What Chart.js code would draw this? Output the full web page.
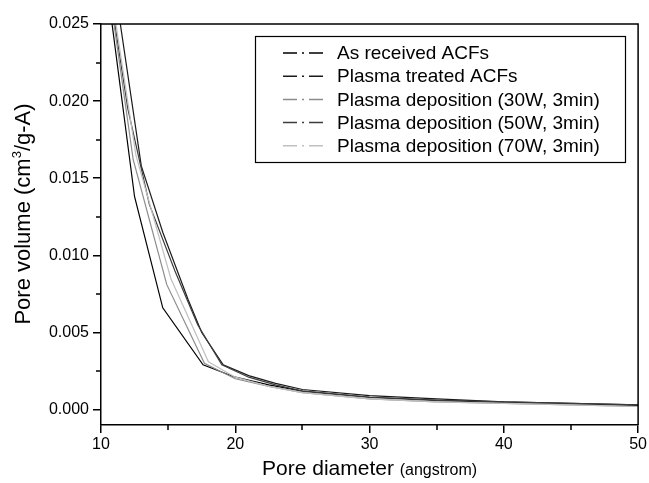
<!DOCTYPE html>
<html><head><meta charset="utf-8">
<script src="https://cdn.jsdelivr.net/npm/chart.js@4/dist/chart.umd.min.js"></script>
<style>html,body{margin:0;padding:0;background:#fff}#wrap{width:649px;height:483px}</style>
</head><body><div id="wrap"><canvas id="c" width="649" height="483"></canvas></div>
<script>
// ---- data ----
const seriesNames = ["As received ACFs","Plasma treated ACFs","Plasma deposition (30W, 3min)","Plasma deposition (50W, 3min)","Plasma deposition (70W, 3min)"];
const seriesColors = ["#000000","#1a1a1a","#8c8c8c","#3c3c3c","#c0c0c0"];

const asReceivedD = [10.3, 12.5, 14.6, 17.6, 20, 22.5, 25, 30, 35, 40, 45, 50];
const asReceivedV = [0.0285, 0.0138, 0.0066, 0.0029, 0.0021, 0.0016, 0.0012, 0.0008, 0.0006, 0.00045, 0.00035, 0.00025];

const plasmaTreatedD = [11.1, 13.0, 14.6, 16.5, 17.5, 19.1, 21, 23, 25, 30, 35, 40, 45, 50];
const plasmaTreatedV = [0.027, 0.0158, 0.0115, 0.0071, 0.0050, 0.0029, 0.0022, 0.0017, 0.0013, 0.0009, 0.0007, 0.0005, 0.0004, 0.0003];

const dep30D = [10.4, 12.4, 14.9, 17.7, 20, 22.5, 25, 30, 35, 40, 45, 50];
const dep30V = [0.0285, 0.0162, 0.0081, 0.0030, 0.0020, 0.0015, 0.0011, 0.0007, 0.0005, 0.0004, 0.0003, 0.0002];

const dep50D = [10.5, 12.0, 13.6, 15.5, 17.2, 19.0, 21, 23, 25, 30, 35, 40, 45, 50];
const dep50V = [0.028, 0.0195, 0.0133, 0.0090, 0.0055, 0.0029, 0.0021, 0.0016, 0.0012, 0.0008, 0.0006, 0.0005, 0.0004, 0.0003];

const dep70D = [10.5, 12.6, 15.2, 18.0, 20, 22.5, 25, 30, 35, 40, 45, 50];
const dep70V = [0.0285, 0.0165, 0.0085, 0.0031, 0.0021, 0.0015, 0.0011, 0.0007, 0.0005, 0.0004, 0.0003, 0.0002];

const xTicks = [10, 20, 30, 40, 50];
const xMinorTicks = [15, 25, 35, 45];
const yTicks = [0, 0.005, 0.010, 0.015, 0.020, 0.025];
const yMinorTicks = [0.0025, 0.0075, 0.0125, 0.0175, 0.0225];

const xTitleMain = "Pore diameter ";
const xTitleUnit = "(angstrom)";
const yTitleParts = ["Pore volume (cm", "3", "/g-A)"];

// ---- build ----
const seriesD = [asReceivedD, plasmaTreatedD, dep30D, dep50D, dep70D];
const seriesV = [asReceivedV, plasmaTreatedV, dep30V, dep50V, dep70V];
const FONT = '"Liberation Sans", Arial, sans-serif';

const datasets = seriesNames.map((n, i) => ({
  label: n,
  data: seriesD[i].map((d, k) => ({x: d, y: seriesV[i][k]})),
  borderColor: seriesColors[i],
  backgroundColor: seriesColors[i],
  borderWidth: 1.2,
  pointRadius: 0,
  tension: 0,
  fill: false
}));
const order = [4, 2, 3, 1, 0];
order.forEach((idx, o) => datasets[idx].order = o);

const decor = {
  id: 'decor',
  afterDraw(chart) {
    const ctx = chart.ctx, a = chart.chartArea;
    const xs = chart.scales.x, ys = chart.scales.y;
    ctx.save();
    ctx.strokeStyle = '#000'; ctx.lineWidth = 1.5;
    ctx.beginPath();
    ctx.moveTo(a.left, a.top); ctx.lineTo(a.right, a.top); ctx.lineTo(a.right, a.bottom);
    ctx.stroke();
    ctx.beginPath();
    yMinorTicks.forEach(v => { const y = Math.round(ys.getPixelForValue(v)); ctx.moveTo(a.left - 5, y); ctx.lineTo(a.left, y); });
    xMinorTicks.forEach(v => { const x = Math.round(xs.getPixelForValue(v)); ctx.moveTo(x, a.bottom); ctx.lineTo(x, a.bottom + 5); });
    ctx.stroke();

    // x title
    ctx.fillStyle = '#000';
    ctx.textBaseline = 'alphabetic';
    ctx.font = '21px ' + FONT;
    const w1 = ctx.measureText(xTitleMain).width;
    ctx.font = '16px ' + FONT;
    const w2 = ctx.measureText(xTitleUnit).width;
    const cx = (a.left + a.right) / 2;
    const sx = cx - (w1 + w2) / 2;
    ctx.textAlign = 'left';
    ctx.font = '21px ' + FONT; ctx.fillText(xTitleMain, sx, 475);
    ctx.font = '16px ' + FONT; ctx.fillText(xTitleUnit, sx + w1, 475);

    // y title
    ctx.save();
    ctx.translate(30, 214);
    ctx.rotate(-Math.PI / 2);
    ctx.font = '22px ' + FONT;
    const p0 = ctx.measureText(yTitleParts[0]).width;
    const p2 = ctx.measureText(yTitleParts[2]).width;
    ctx.font = '13px ' + FONT;
    const p1 = ctx.measureText(yTitleParts[1]).width;
    const tx = -(p0 + p1 + p2) / 2;
    ctx.font = '22px ' + FONT; ctx.fillText(yTitleParts[0], tx, 0);
    ctx.font = '13px ' + FONT; ctx.fillText(yTitleParts[1], tx + p0, -9);
    ctx.font = '22px ' + FONT; ctx.fillText(yTitleParts[2], tx + p0 + p1, 0);
    ctx.restore();

    // legend
    const bx = 255.5, by = 36.5, bw = 370, bh = 126;
    ctx.fillStyle = '#fff'; ctx.fillRect(bx, by, bw, bh);
    ctx.strokeStyle = '#000'; ctx.lineWidth = 1.2;
    ctx.strokeRect(bx, by, bw, bh);
    ctx.font = '19px ' + FONT; ctx.textBaseline = 'middle'; ctx.textAlign = 'left';
    chart.data.datasets.forEach((ds, i) => {
      const y = 53 + i * 23.2;
      ctx.strokeStyle = ds.borderColor; ctx.lineWidth = 1.5;
      ctx.beginPath();
      ctx.moveTo(283, y); ctx.lineTo(297, y);
      ctx.moveTo(302, y); ctx.lineTo(304, y);
      ctx.moveTo(309, y); ctx.lineTo(323, y);
      ctx.stroke();
      ctx.fillStyle = '#000';
      ctx.fillText(ds.label, 337, y + 1);
    });
    ctx.restore();
  }
};

new Chart(document.getElementById('c'), {
  type: 'line',
  data: { datasets },
  options: {
    responsive: false,
    animation: false,
    devicePixelRatio: 1,
    layout: { padding: { top: 24, right: 10, left: 0, bottom: 0 } },
    plugins: { legend: { display: false }, tooltip: { enabled: false } },
    scales: {
      x: {
        type: 'linear', min: 10, max: 50,
        afterFit: s => { s.height = 58; },
        afterBuildTicks: s => { s.ticks = xTicks.map(v => ({ value: v })); },
        ticks: { color: '#000', font: { family: FONT, size: 16 }, padding: 2, maxRotation: 0 },
        grid: { drawOnChartArea: false, color: '#000', lineWidth: 1.5, tickLength: 8 },
        border: { color: '#000', width: 1.5 }
      },
      y: {
        type: 'linear', min: -0.001, max: 0.025,
        afterFit: s => { s.width = 101; },
        afterBuildTicks: s => { s.ticks = yTicks.map(v => ({ value: v })); },
        ticks: { color: '#000', font: { family: FONT, size: 16 }, padding: 4, callback: v => Number(v).toFixed(3) },
        grid: { drawOnChartArea: false, color: '#000', lineWidth: 1.5, tickLength: 8 },
        border: { color: '#000', width: 1.5 }
      }
    }
  },
  plugins: [decor]
});
</script></body></html>
